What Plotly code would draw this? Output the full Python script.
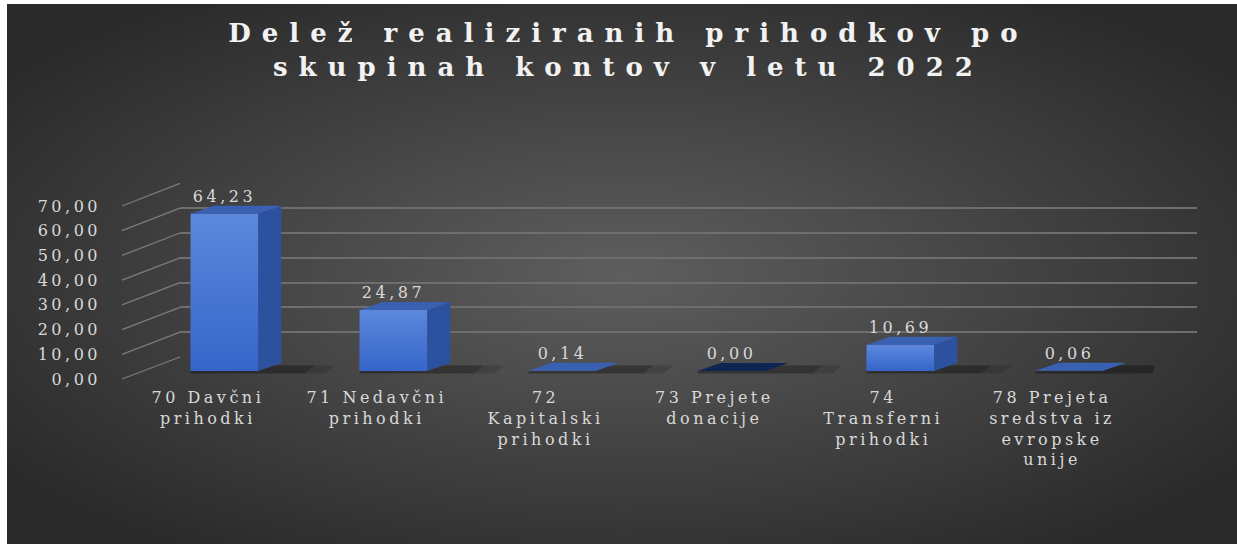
import base64
import plotly.graph_objects as go

# ---------------- data ----------------
title_text = "Delež realiziranih prihodkov po<br>skupinah kontov v letu 2022"
category_labels = [
    "70 Davčni<br>prihodki",
    "71 Nedavčni<br>prihodki",
    "72<br>Kapitalski<br>prihodki",
    "73 Prejete<br>donacije",
    "74<br>Transferni<br>prihodki",
    "78 Prejeta<br>sredstva iz<br>evropske<br>unije",
]
values = [64.23, 24.87, 0.14, 0.00, 10.69, 0.06]
y_ticks = [0, 10, 20, 30, 40, 50, 60, 70]
y_max = 70

# ---------------- geometry helpers (pixel layout of the 3D look) ----------------
W, H = 1237, 544


def px_x(p):
    return p / W


def px_y(p):
    return 1 - p / H


def y_domain(px0, px_top, lo=0.0, hi=y_max):
    scale = (px_top - px0) / y_max
    return [px_y(px0 + lo * scale), px_y(px0 + hi * scale)]


# front (labels), back wall (grid) and bar plane vertical mappings
FRONT0, FRONT70 = 379, 206
BACK0, BACK70 = 357, 183.4
BAR0, BAR70 = 371, 199.5

n = len(values)
bar_w = 0.4
depth_dx = 0.136           # side depth in category units
depth_dy = 8 / ((BAR0 - BAR70) / y_max)  # side rise in value units
bar_lo = -3.0              # room below the floor for the shadow

FRONT_COL = "#4676d6"
FRONT_TOP = "#5c88dc"
FRONT_BOT = "#3565c9"
SIDE_COL = "#2c519e"
TOP_COL = "#3a60b2"
ZERO_TOP_COL = "#0f2654"
TEXT_COL = "#d9d9d9"
GRID_COL = "#6e6e6e"

fig = go.Figure()

# back-wall grid subplot (x / y) - drawn first, under the bars
fig.add_trace(go.Scatter(x=[0], y=[0], mode="markers", marker=dict(opacity=0),
                         hoverinfo="skip", showlegend=False, xaxis="x", yaxis="y"))

# bars (front faces)
xs = list(range(n))
fig.add_trace(go.Bar(x=xs, y=values, width=bar_w, marker=dict(color=FRONT_COL, line=dict(width=0)),
                     hoverinfo="skip", showlegend=False, xaxis="x2", yaxis="y2"))

# soft floor shadows (two layers)
for i, v in enumerate(values):
    xr = i + bar_w / 2
    xl = i - bar_w / 2
    for ext, alpha in ((0.32, 0.14), (0.2, 0.2)):
        fig.add_trace(go.Scatter(
            x=[xl, xr + depth_dx + ext - 0.06, xr + depth_dx + ext, xr, xr, xl, xl],
            y=[-1.0, -1.0, depth_dy * 0.7, depth_dy * 0.7, 0, 0, -1.0],
            fill="toself", fillcolor=f"rgba(0,0,0,{alpha})", mode="lines", line=dict(width=0),
            hoverinfo="skip", showlegend=False, xaxis="x2", yaxis="y2"))

# front-face shading, side and top faces computed from the values
for i, v in enumerate(values):
    xr = i + bar_w / 2
    xl = i - bar_w / 2
    if v > 1:
        fig.add_trace(go.Scatter(
            x=[xl, xr, xr, xl, xl], y=[0, 0, v, v, 0],
            fill="toself", mode="lines", line=dict(width=0),
            fillgradient=dict(type="vertical", colorscale=[[0, FRONT_BOT], [1, FRONT_TOP]]),
            hoverinfo="skip", showlegend=False, xaxis="x2", yaxis="y2"))
    fig.add_trace(go.Scatter(
        x=[xr, xr + depth_dx, xr + depth_dx, xr, xr],
        y=[0, depth_dy, v + depth_dy, v, 0],
        fill="toself", fillcolor=SIDE_COL, mode="lines", line=dict(width=0),
        hoverinfo="skip", showlegend=False, xaxis="x2", yaxis="y2"))
    fig.add_trace(go.Scatter(
        x=[xl, xr, xr + depth_dx, xl + depth_dx, xl],
        y=[v, v, v + depth_dy, v + depth_dy, v],
        fill="toself", fillcolor=(TOP_COL if v > 0 else ZERO_TOP_COL), mode="lines", line=dict(width=0),
        hoverinfo="skip", showlegend=False, xaxis="x2", yaxis="y2"))

# data labels
fig.add_trace(go.Scatter(
    x=xs, y=[v + depth_dy for v in values],
    text=[f"{v:.2f}".replace(".", ",") for v in values],
    mode="text", textposition="top center", cliponaxis=False,
    textfont=dict(family="DejaVu Serif", size=16, color=TEXT_COL),
    hoverinfo="skip", showlegend=False, xaxis="x2", yaxis="y2"))

# front label axes (x3 / y3)
fig.add_trace(go.Scatter(x=[0], y=[0], mode="markers", marker=dict(opacity=0),
                         hoverinfo="skip", showlegend=False, xaxis="x3", yaxis="y3"))

# diagonal side-wall lines linking front labels to back grid
shapes = []
for t in y_ticks:
    yf = FRONT0 + t * (FRONT70 - FRONT0) / y_max
    yb = BACK0 + t * (BACK70 - BACK0) / y_max
    shapes.append(dict(type="line", xref="paper", yref="paper",
                       x0=px_x(122), y0=px_y(yf), x1=px_x(180), y1=px_y(yb),
                       line=dict(color="#7c7c7c", width=1.3), layer="below"))

# radial gradient background
svg = ('<svg xmlns="http://www.w3.org/2000/svg" width="1230" height="540" viewBox="0 0 1230 540" '
       'preserveAspectRatio="none"><defs><radialGradient id="g" cx="0.5" cy="0.5" r="0.62">'
       '<stop offset="0" stop-color="#5e5e5e"/><stop offset="1" stop-color="#2a2a2a"/>'
       '</radialGradient></defs><rect width="1230" height="540" fill="url(#g)"/></svg>')
bg_src = "data:image/svg+xml;base64," + base64.b64encode(svg.encode()).decode()

pad = 0.3
fig.update_layout(
    template="none",
    width=W, height=H, autosize=False,
    margin=dict(l=0, r=0, t=0, b=0, pad=0, autoexpand=False),
    paper_bgcolor="white", plot_bgcolor="rgba(0,0,0,0)",
    separators=",.",
    showlegend=False,
    images=[dict(source=bg_src, xref="paper", yref="paper", x=px_x(7), y=px_y(4),
                 sizex=1 - 7 / W, sizey=1 - 4 / H, sizing="stretch", layer="below",
                 xanchor="left", yanchor="top")],
    shapes=shapes,
    title=dict(text=title_text, x=0.508, xanchor="center", y=px_y(42), yanchor="top",
               automargin=False,
               font=dict(family="DejaVu Serif", size=26, color="#f2f2f2", weight="bold")),
    xaxis=dict(domain=[px_x(180), px_x(1197)], range=[0, 1], visible=False, automargin=False),
    yaxis=dict(domain=y_domain(BACK0, BACK70, -pad, y_max + pad), range=[-pad, y_max + pad],
               tickvals=y_ticks, showticklabels=False, showgrid=True, gridcolor=GRID_COL,
               gridwidth=2, zeroline=False, showline=False, anchor="x", automargin=False),
    xaxis2=dict(domain=[px_x(140), px_x(1154)], range=[-0.5, n - 0.5], visible=False,
                anchor="y2", automargin=False),
    yaxis2=dict(domain=y_domain(BAR0, BAR70, bar_lo, y_max), range=[bar_lo, y_max],
                visible=False, anchor="x2", automargin=False),
    xaxis3=dict(domain=[px_x(123.5), px_x(1136.5)], range=[-0.5, n - 0.5],
                tickvals=xs, ticktext=category_labels, showgrid=False, zeroline=False,
                showline=False, ticks="", anchor="free", position=px_y(386), automargin=False,
                tickfont=dict(family="DejaVu Serif", size=16, color=TEXT_COL)),
    yaxis3=dict(domain=y_domain(FRONT0, FRONT70), range=[0, y_max], tickvals=y_ticks,
                tickformat=".2f", showgrid=False, zeroline=False, showline=False, ticks="",
                anchor="free", position=px_x(101), automargin=False,
                tickfont=dict(family="DejaVu Serif", size=16, color=TEXT_COL)),
)

post = """
document.body.style.margin = '0';
var gd = document.getElementById('{plot_id}');
gd.querySelectorAll('text').forEach(function(t){ t.style.letterSpacing = '3.5px'; });
gd.querySelectorAll('.gtitle').forEach(function(t){ t.style.letterSpacing = '11px'; });
"""

fig.write_html("out.html", post_script=post, config={"displayModeBar": False, "staticPlot": True})
